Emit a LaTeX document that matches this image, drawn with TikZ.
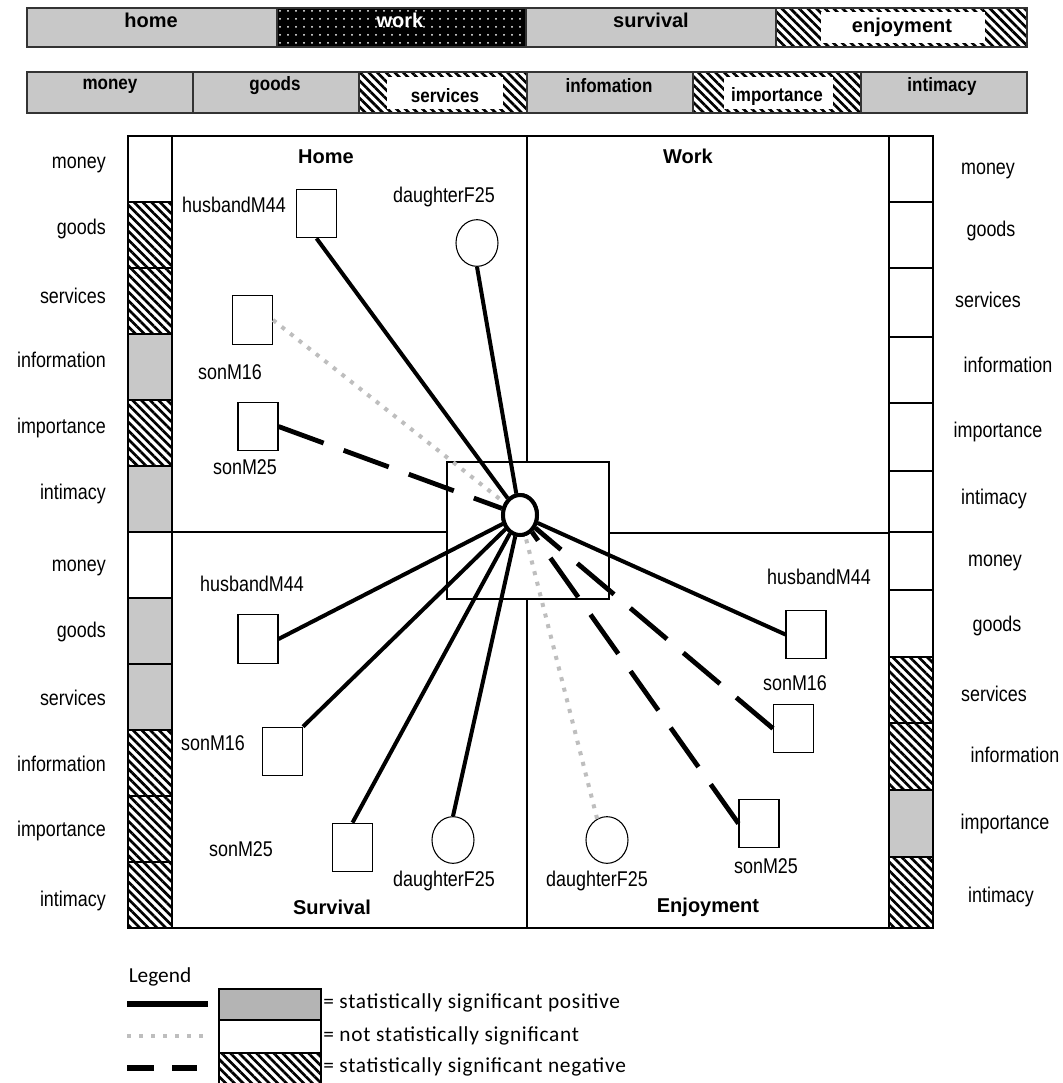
\documentclass[tikz,border=0pt]{standalone}
\usepackage{fontspec}
\setmainfont{Liberation Sans}
\newfontfamily\nfont[FakeStretch=0.84]{Liberation Sans}
\newfontfamily\sbfont[FakeStretch=0.88]{Liberation Sans}
\newfontfamily\legfont[LetterSpace=3.5]{Carlito}
\newfontfamily\leghead{Carlito}
\usetikzlibrary{patterns.meta,shapes.geometric}
\definecolor{cg}{RGB}{200,200,200}
\definecolor{lg}{RGB}{180,180,180}
\definecolor{dotg}{RGB}{190,190,190}
\tikzset{
  hatchfill/.style={preaction={fill=white},pattern={Lines[angle=-45,distance=4.6pt,line width=2pt]},pattern color=black},
  barcell/.style={draw=black!80,line width=1.1pt},
  colcell/.style={draw=black,line width=1.5pt},
  cw/.style={fill=white},
  cgr/.style={fill=cg},
  barlab/.style={font=\bfseries\fontsize{15}{18}\selectfont,inner sep=0pt},
  sublab/.style={font=\sbfont\bfseries\fontsize{14.5}{17}\selectfont,inner sep=0pt},
  sidelab/.style={font=\nfont\fontsize{16}{19}\selectfont,inner sep=0pt,text height=1.6ex,text depth=0.45ex},
  plab/.style={font=\nfont\fontsize{16}{19}\selectfont,inner sep=0pt,text height=1.6ex,text depth=0.45ex},
  qtitle/.style={font=\bfseries\fontsize{15}{18}\selectfont,inner sep=0pt},
  person/.style={draw=black,line width=0.8pt,fill=white,rectangle,minimum width=30pt,minimum height=36.5pt,inner sep=0pt},
  female/.style={draw=black,line width=0.8pt,fill=white,ellipse,minimum width=31.5pt,minimum height=35pt,inner sep=0pt},
  ego/.style={draw=black,line width=3pt,fill=white,ellipse,minimum width=25.5pt,minimum height=30pt,inner sep=0pt},
  posline/.style={line width=3pt,draw=black},
  nsig/.style={line width=3pt,draw=dotg,dash pattern=on 3pt off 5.2pt},
  negline/.style={line width=3.6pt,draw=black,dash pattern=on 36pt off 16pt},
  legtext/.style={font=\legfont\fontsize{16}{19}\selectfont,inner sep=0pt,anchor=west,text height=1.5ex,text depth=0.4ex}
}
\begin{document}
\begin{tikzpicture}[x=0.75pt,y=-0.75pt]
\useasboundingbox (0,0) rectangle (1063,1083);
\fill[white] (0,0) rectangle (1063,1083);

% ---------- top bar
\draw[barcell,fill=cg] (27,8) rectangle (277,47);
\draw[barcell,fill=black] (277,8) rectangle (526,47);
\fill[pattern={Dots[radius=0.75pt,distance=6pt]},pattern color=white] (279,10) rectangle (524,45);
\draw[barcell,fill=cg] (526,8) rectangle (776,47);
\draw[barcell,hatchfill] (776,8) rectangle (1027,47);
\fill[white] (821,12) rectangle (985,43);
\node[barlab] (thome) at (151,20) {home};
\node[barlab,text=white] (twork) at (400,20) {work};
\node[barlab] (tsurv) at (651,20) {survival};
\node[barlab] (tenjoy) at (902,27) {enjoyment};

% ---------- second bar
\draw[barcell,fill=cg] (27,72) rectangle (193,113);
\draw[barcell,fill=cg] (193,72) rectangle (359,113);
\draw[barcell,hatchfill] (359,72) rectangle (527,113);
\fill[white] (387,77) rectangle (503,109);
\draw[barcell,fill=cg] (527,72) rectangle (693,113);
\draw[barcell,hatchfill] (693,72) rectangle (861,113);
\fill[white] (724,77) rectangle (833,109);
\draw[barcell,fill=cg] (861,72) rectangle (1027,113);
\node[sublab] (smoney) at (110,86) {money};
\node[sublab] (sgoods) at (275,86) {goods};
\node[sublab] (sserv) at (445,96) {services};
\node[sublab] (sinfo) at (609,86) {infomation};
\node[sublab] (simp) at (777,96) {importance};
\node[sublab] (sint) at (942,86) {intimacy};

% ---------- main frame
\draw[line width=1.5pt] (172,136) rectangle (889,928);
\draw[line width=1.1pt] (172,532) -- (447,532);
\draw[line width=1.1pt] (609,533) -- (889,533);
\draw[line width=1.1pt] (527,136) -- (527,462);
\draw[line width=1.1pt] (527,599) -- (527,928);
\draw[line width=0.8pt] (447,462) rectangle (609,599);

% left column
\draw[colcell,cw] (128,136) rectangle (172,202);
\draw[colcell,hatchfill] (128,202) rectangle (172,268);
\draw[colcell,hatchfill] (128,268) rectangle (172,334);
\draw[colcell,cgr] (128,334) rectangle (172,400);
\draw[colcell,hatchfill] (128,400) rectangle (172,466);
\draw[colcell,cgr] (128,466) rectangle (172,532);
\draw[colcell,cw] (128,532) rectangle (172,598);
\draw[colcell,cgr] (128,598) rectangle (172,664);
\draw[colcell,cgr] (128,664) rectangle (172,730);
\draw[colcell,hatchfill] (128,730) rectangle (172,796);
\draw[colcell,hatchfill] (128,796) rectangle (172,862);
\draw[colcell,hatchfill] (128,862) rectangle (172,928);

% right column
\draw[colcell,cw] (889,136) rectangle (933,202);
\draw[colcell,cw] (889,202) rectangle (933,268);
\draw[colcell,cw] (889,268) rectangle (933,337);
\draw[colcell,cw] (889,337) rectangle (933,403);
\draw[colcell,cw] (889,403) rectangle (933,471);
\draw[colcell,cw] (889,471) rectangle (933,532);
\draw[colcell,cw] (889,532) rectangle (933,590);
\draw[colcell,cw] (889,590) rectangle (933,657);
\draw[colcell,hatchfill] (889,657) rectangle (933,723);
\draw[colcell,hatchfill] (889,723) rectangle (933,790);
\draw[colcell,cgr] (889,790) rectangle (933,857);
\draw[colcell,hatchfill] (889,857) rectangle (933,928);

% left labels
\node[sidelab,anchor=east] (l1) at (106,164) {money};
\node[sidelab,anchor=east] (l2) at (106,230) {goods};
\node[sidelab,anchor=east] (l3) at (106,299) {services};
\node[sidelab,anchor=east] (l4) at (106,363) {information};
\node[sidelab,anchor=east] (l5) at (106,429) {importance};
\node[sidelab,anchor=east] (l6) at (106,495) {intimacy};
\node[sidelab,anchor=east] (l7) at (106,567) {money};
\node[sidelab,anchor=east] (l8) at (106,633) {goods};
\node[sidelab,anchor=east] (l9) at (106,701) {services};
\node[sidelab,anchor=east] (l10) at (106,767) {information};
\node[sidelab,anchor=east] (l11) at (106,832) {importance};
\node[sidelab,anchor=east] (l12) at (106,902) {intimacy};

% right labels
\node[sidelab] (r1) at (988,170) {money};
\node[sidelab] (r2) at (991,232) {goods};
\node[sidelab] (r3) at (988,303) {services};
\node[sidelab] (r4) at (1008,368) {information};
\node[sidelab] (r5) at (998,433) {importance};
\node[sidelab] (r6) at (994,500) {intimacy};
\node[sidelab] (r7) at (995,562) {money};
\node[sidelab] (r8) at (997,627) {goods};
\node[sidelab] (r9) at (994,697) {services};
\node[sidelab] (r10) at (1015,758) {information};
\node[sidelab] (r11) at (1005,825) {importance};
\node[sidelab] (r12) at (1001,898) {intimacy};

% quadrant titles
\node[qtitle] (qhome) at (326,157) {Home};
\node[qtitle] (qwork) at (688,156) {Work};
\node[qtitle] (qsurv) at (332,907) {Survival};
\node[qtitle] (qenj) at (708,907) {Enjoyment};

% ---------- people
\node[ego] (c) at (520,515) {};

\node[person] (hH) at (316.5,213.5) {};
\node[female] (hD) at (477,243) {};
\node[person] (hS16) at (252.5,320) {};
\node[person] (hS25) at (258,426.5) {};
\node[plab] (hHl) at (234,208) {husbandM44};
\node[plab] (hDl) at (444,198) {daughterF25};
\node[plab] (hS16l) at (230,375) {sonM16};
\node[plab] (hS25l) at (245,470) {sonM25};

\node[person] (sH) at (258,639) {};
\node[person] (sS16) at (282.5,751.5) {};
\node[person] (sS25) at (352.5,847.5) {};
\node[female] (sD) at (453,840) {};
\node[plab] (sHl) at (252,587) {husbandM44};
\node[plab] (sS16l) at (213,746) {sonM16};
\node[plab] (sS25l) at (241,852) {sonM25};
\node[plab] (sDl) at (444,882) {daughterF25};

\node[person] (eH) at (806,634.5) {};
\node[person] (eS16) at (793.5,728.5) {};
\node[person] (eS25) at (759,823.5) {};
\node[female] (eD) at (607,840) {};
\node[plab] (eHl) at (819,580) {husbandM44};
\node[plab] (eS16l) at (795,686) {sonM16};
\node[plab] (eS25l) at (766,869) {sonM25};
\node[plab] (eDl) at (597,882) {daughterF25};

% ---------- connectors
\draw[posline] (hH.south) -- (c);
\draw[posline] (hD.south) -- (c);
\draw[nsig] (hS16.east) -- (c);
\draw[negline] (hS25.east) -- (c);
\draw[posline] (sH.east) -- (c);
\draw[posline] (sS16.north east) -- (c);
\draw[posline] (sS25.north) -- (c);
\draw[posline] (sD.north) -- (c);
\draw[posline] (eH.west) -- (c);
\draw[negline] (eS16.west) -- (c);
\draw[negline] (eS25.west) -- (c);
\draw[nsig] (eD.115) -- (c);
\node[ego] (c2) at (c) {};

% ---------- legend
\node[font=\leghead\fontsize{16}{19}\selectfont,inner sep=0pt] (legt) at (160,977) {Legend};
\coordinate (la1) at (127,1004); \coordinate (lb1) at (208,1004);
\coordinate (la2) at (127,1036); \coordinate (lb2) at (205,1036);
\coordinate (la3) at (127,1068); \coordinate (lb3) at (197,1068);
\draw[line width=3.8pt] (la1) -- (lb1);
\draw[line width=3pt,draw=dotg,dash pattern=on 3pt off 6pt] (la2) -- (lb2);
\draw[line width=3.8pt,dash pattern=on 20pt off 14pt] (la3) -- (lb3);
\draw[line width=0.9pt,fill=lg] (219,989) rectangle (321,1020);
\draw[line width=0.9pt,fill=white] (219,1020) rectangle (321,1053);
\draw[line width=0.9pt,hatchfill] (219,1053) rectangle (321,1090);
\node[legtext] (lt1) at (323,1005) {= statistically significant positive};
\node[legtext] (lt2) at (323,1038) {= not statistically significant};
\node[legtext] (lt3) at (323,1069) {= statistically significant negative};
\end{tikzpicture}
\end{document}
